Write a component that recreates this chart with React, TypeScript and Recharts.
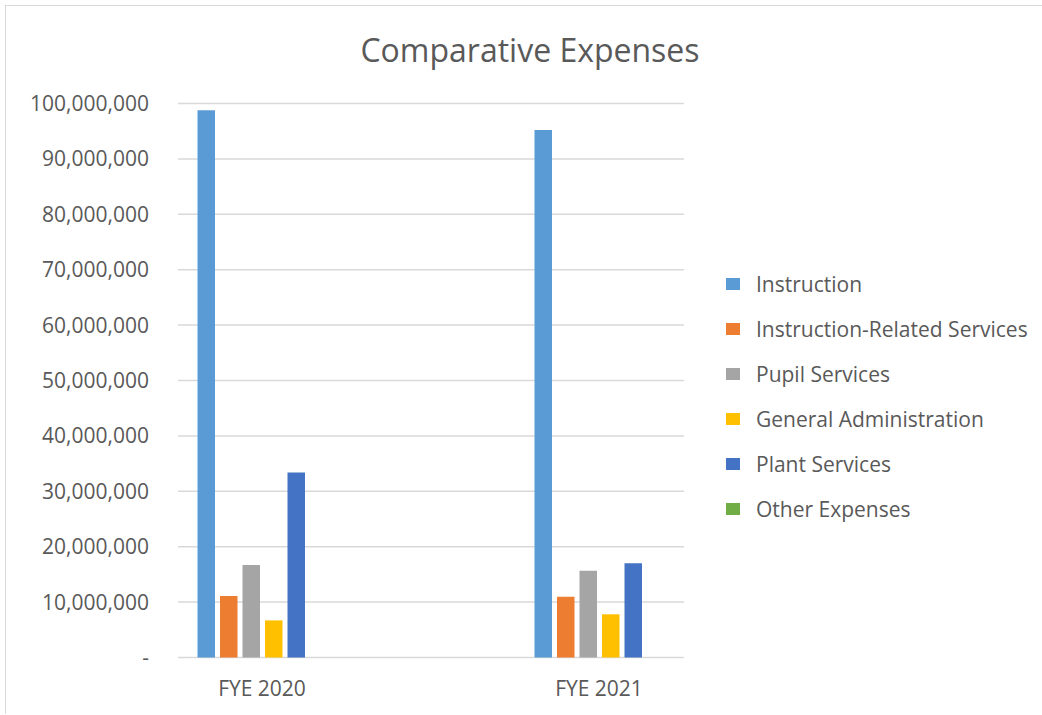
import { Bar, BarChart, CartesianGrid, Legend, XAxis, YAxis } from "recharts";

const categories = ["FYE 2020", "FYE 2021"];
const instruction = [98800000, 95200000];
const instructionRelated = [11100000, 10950000];
const pupilServices = [16700000, 15650000];
const generalAdmin = [6700000, 7800000];
const plantServices = [33400000, 17000000];
const otherExpenses = [0, 0];
const yTicks = [0, 10000000, 20000000, 30000000, 40000000, 50000000, 60000000, 70000000, 80000000, 90000000, 100000000];

const series = [
  { key: "instruction", name: "Instruction", color: "#5B9BD5", values: instruction },
  { key: "instructionRelated", name: "Instruction-Related Services", color: "#ED7D31", values: instructionRelated },
  { key: "pupilServices", name: "Pupil Services", color: "#A5A5A5", values: pupilServices },
  { key: "generalAdmin", name: "General Administration", color: "#FFC000", values: generalAdmin },
  { key: "plantServices", name: "Plant Services", color: "#4472C4", values: plantServices },
  { key: "otherExpenses", name: "Other Expenses", color: "#70AD47", values: otherExpenses },
];

const data = categories.map((c, i) => {
  const row: Record<string, string | number> = { name: c };
  series.forEach((s) => (row[s.key] = s.values[i]));
  return row;
});

const FONT = "'Open Sans', sans-serif";
const TEXT = "#595959";

const fmt = (v: number) => (v === 0 ? "-" : v.toLocaleString("en-US"));

function LegendBox() {
  return (
    <div style={{ fontFamily: FONT, fontSize: 21, color: TEXT }}>
      {series.map((s) => (
        <div key={s.key} style={{ display: "flex", alignItems: "center", height: 45 }}>
          <span style={{ width: 14, height: 12, background: s.color, marginRight: 16 }} />
          <span>{s.name}</span>
        </div>
      ))}
    </div>
  );
}

export default function App() {
  return (
    <div
      style={{
        position: "fixed",
        left: 0,
        top: 0,
        width: 1042,
        height: 715,
        overflow: "hidden",
        background: "#fff",
      }}
    >
      <div
        style={{
          position: "absolute",
          left: 5,
          top: 5,
          width: 1100,
          height: 708,
          borderLeft: "1px solid #d9d9d9",
          borderTop: "1px solid #d9d9d9",
        }}
      />
      <div
        style={{
          position: "absolute",
          left: 0,
          top: 28,
          width: 1060,
          textAlign: "center",
          fontFamily: FONT,
          fontSize: 32,
          color: TEXT,
        }}
      >
        Comparative Expenses
      </div>
      <div style={{ position: "absolute", left: 0, top: 0 }}>
        <BarChart
          width={1042}
          height={715}
          data={data}
          margin={{ top: 103.5, right: 274.5, bottom: 0, left: 0 }}
          barSize={17.5}
          barGap={5}
        >
          <CartesianGrid vertical={false} stroke="#d9d9d9" strokeWidth={1.5} x={178} width={506} />
          <XAxis
            dataKey="name"
            height={57.5}
            axisLine={false}
            tickLine={false}
            tickMargin={18}
            tick={{ fill: TEXT, fontSize: 21, fontFamily: FONT }}
          />
          <YAxis
            width={93.5}
            domain={[0, 100000000]}
            ticks={yTicks}
            interval={0}
            axisLine={false}
            tickLine={false}
            tickMargin={-61.5}
            tickFormatter={fmt}
            tick={{ fill: TEXT, fontSize: 21, fontFamily: FONT }}
          />
          <Legend
            layout="vertical"
            align="center"
            verticalAlign="middle"
            content={() => <LegendBox />}
            wrapperStyle={{ left: 726, top: 261, width: 320 }}
          />
          {series.map((s) => (
            <Bar key={s.key} dataKey={s.key} name={s.name} fill={s.color} isAnimationActive={false} />
          ))}
        </BarChart>
      </div>
    </div>
  );
}
